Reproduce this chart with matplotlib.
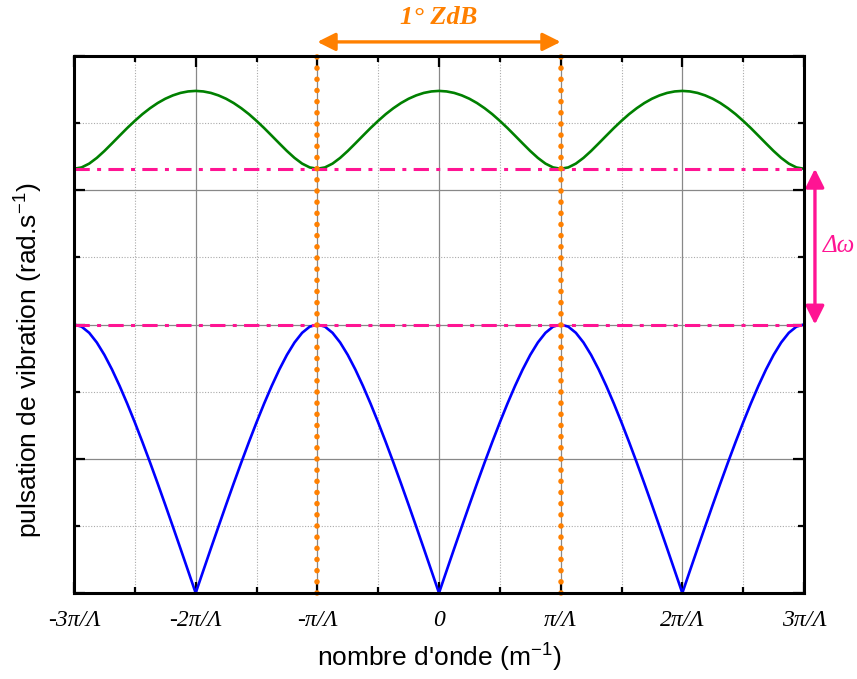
import numpy as np
import matplotlib
matplotlib.use("Agg")
import matplotlib.pyplot as plt
from matplotlib.ticker import FixedLocator

plt.rcParams['mathtext.fontset'] = 'custom'
plt.rcParams['mathtext.rm'] = 'Liberation Sans'
plt.rcParams['mathtext.it'] = 'Liberation Sans:italic'

# wave number in units of pi/Lambda
k = np.linspace(-3, 3, 97)

acoustic = [4.0, 3.968, 3.876, 3.732, 3.547, 3.329, 3.085, 2.821, 2.541, 2.248, 1.945, 1.633, 1.314, 0.990, 0.663, 0.332, 0.0,
            0.332, 0.663, 0.990, 1.314, 1.633, 1.945, 2.248, 2.541, 2.821, 3.085, 3.329, 3.547, 3.732, 3.876, 3.968, 4.0,
            3.968, 3.876, 3.732, 3.547, 3.329, 3.085, 2.821, 2.541, 2.248, 1.945, 1.633, 1.314, 0.990, 0.663, 0.332, 0.0,
            0.332, 0.663, 0.990, 1.314, 1.633, 1.945, 2.248, 2.541, 2.821, 3.085, 3.329, 3.547, 3.732, 3.876, 3.968, 4.0,
            3.968, 3.876, 3.732, 3.547, 3.329, 3.085, 2.821, 2.541, 2.248, 1.945, 1.633, 1.314, 0.990, 0.663, 0.332, 0.0,
            0.332, 0.663, 0.990, 1.314, 1.633, 1.945, 2.248, 2.541, 2.821, 3.085, 3.329, 3.547, 3.732, 3.876, 3.968, 4.0]

optical = [6.32, 6.340, 6.397, 6.482, 6.585, 6.698, 6.813, 6.927, 7.034, 7.134, 7.222, 7.299, 7.363, 7.413, 7.450, 7.472, 7.48,
           7.472, 7.450, 7.413, 7.363, 7.299, 7.222, 7.134, 7.034, 6.927, 6.813, 6.698, 6.585, 6.482, 6.397, 6.340, 6.32,
           6.340, 6.397, 6.482, 6.585, 6.698, 6.813, 6.927, 7.034, 7.134, 7.222, 7.299, 7.363, 7.413, 7.450, 7.472, 7.48,
           7.472, 7.450, 7.413, 7.363, 7.299, 7.222, 7.134, 7.034, 6.927, 6.813, 6.698, 6.585, 6.482, 6.397, 6.340, 6.32,
           6.340, 6.397, 6.482, 6.585, 6.698, 6.813, 6.927, 7.034, 7.134, 7.222, 7.299, 7.363, 7.413, 7.450, 7.472, 7.48,
           7.472, 7.450, 7.413, 7.363, 7.299, 7.222, 7.134, 7.034, 6.927, 6.813, 6.698, 6.585, 6.482, 6.397, 6.340, 6.32]

gap_low = 4.0
gap_high = 6.32
zone_edges = [-1, 1]

xtick_pos = [-3, -2, -1, 0, 1, 2, 3]
xtick_labels = ["-3π/Λ", "-2π/Λ", "-π/Λ", "0", "π/Λ", "2π/Λ", "3π/Λ"]

PINK = "#FF1493"
ORANGE = "#FF8000"

fig = plt.figure(figsize=(8.57, 6.79), dpi=100)
ax = fig.add_axes([74/857, 1-593/679, (804-74)/857, (593-56)/679])

ax.set_xlim(-3, 3)
ax.set_ylim(0, 8)

ax.xaxis.set_major_locator(FixedLocator(xtick_pos))
ax.xaxis.set_minor_locator(FixedLocator([-2.5, -1.5, -0.5, 0.5, 1.5, 2.5]))
ax.yaxis.set_major_locator(FixedLocator([0, 2, 4, 6, 8]))
ax.yaxis.set_minor_locator(FixedLocator([1, 3, 5, 7]))
ax.set_xticklabels(xtick_labels, fontfamily="Liberation Serif", fontstyle="italic", fontsize=17)
ax.set_yticklabels([])

ax.grid(which="major", color="#888888", linewidth=0.9, linestyle="-", zorder=0)
ax.grid(which="minor", color="#aaaaaa", linewidth=0.8, linestyle=(0, (1, 1.5)), zorder=0)
ax.set_axisbelow(True)

ax.tick_params(which="both", direction="in", top=True, right=True, width=1.6, color="black")
ax.tick_params(which="major", length=8, pad=12)
ax.tick_params(which="minor", length=4)
for s in ax.spines.values():
    s.set_linewidth(2.2)
    s.set_zorder(5)

ax.plot(k, acoustic, color="#0000FF", linewidth=1.9, zorder=3)
ax.plot(k, optical, color="#008000", linewidth=1.9, zorder=3)

for yv in [gap_high, gap_low]:
    ln, = ax.plot([-3, 3], [yv, yv], color=PINK, linewidth=2.2, zorder=4)
    ln.set_dashes([5.0, 2.4, 1.3, 2.4])

for xv in zone_edges:
    ax.plot([xv, xv], [0, 8], color=ORANGE, linewidth=4.0, zorder=4,
            linestyle=(0, (0.01, 2.0)), dash_capstyle="round", clip_on=False)

# Brillouin zone arrow
ax.annotate("", xy=(-1, 8.21), xytext=(1, 8.21), xycoords="data",
            arrowprops=dict(arrowstyle="<|-|>", color=ORANGE, lw=2.4,
                            mutation_scale=27, shrinkA=0, shrinkB=0),
            annotation_clip=False)
ax.text(0, 8.58, "1° ZdB", ha="center", va="center", color=ORANGE,
        fontfamily="Liberation Serif", fontstyle="italic", fontweight="bold",
        fontsize=19, clip_on=False)

# Gap arrow
ax.annotate("", xy=(3.09, gap_high), xytext=(3.09, gap_low), xycoords="data",
            arrowprops=dict(arrowstyle="<|-|>", color=PINK, lw=2.4,
                            mutation_scale=28, shrinkA=0, shrinkB=0),
            annotation_clip=False)
ax.text(3.29, 5.17, "Δω", ha="center", va="center", color=PINK,
        fontfamily="Liberation Serif", fontstyle="italic", fontsize=18, clip_on=False)

ax.set_xlabel("nombre d'onde (m$^{-1}$)", fontfamily="Liberation Sans", fontsize=19, labelpad=8)
ax.set_ylabel("pulsation de vibration (rad.s$^{-1}$)", fontfamily="Liberation Sans", fontsize=19)
ax.yaxis.set_label_coords(-0.040, 0.434)

fig.savefig("out.png", dpi=100)
